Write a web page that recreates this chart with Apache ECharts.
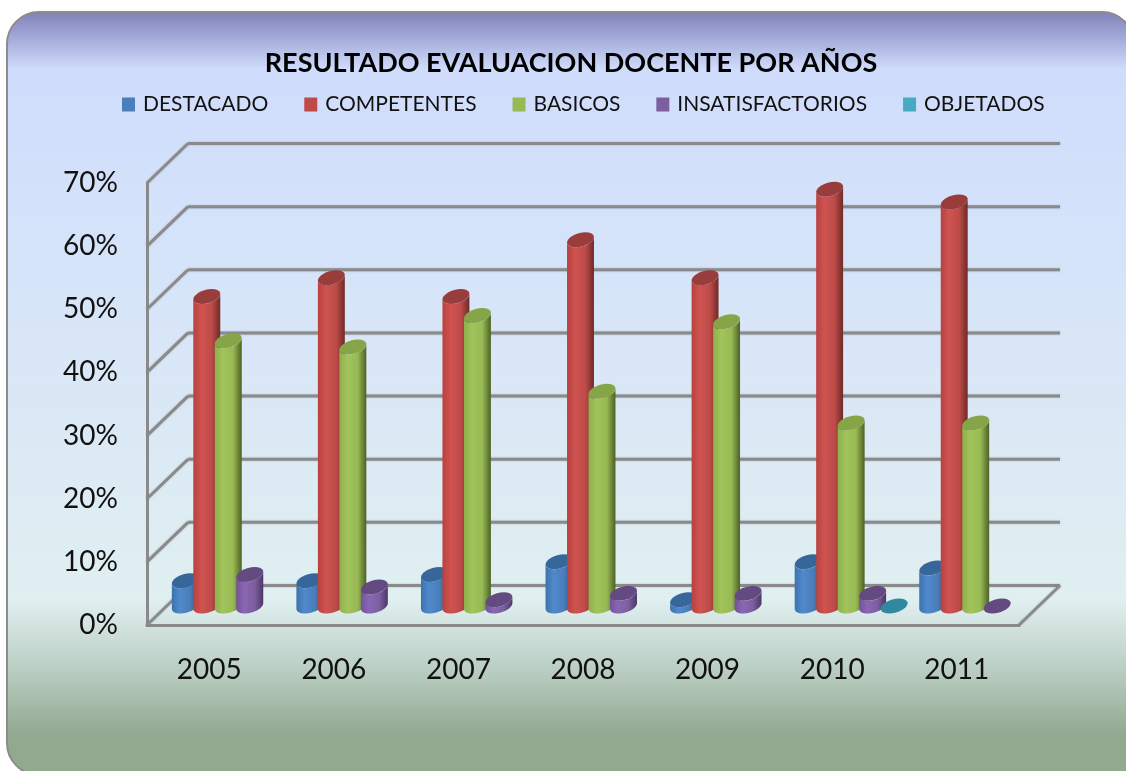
<!DOCTYPE html>
<html><head><meta charset="utf-8">
<style>html,body{margin:0;padding:0;background:#fff}#c{width:1126px;height:771px;filter:blur(0.5px)}</style>
<script src="https://cdn.jsdelivr.net/npm/echarts@6/dist/echarts.min.js"></script>
</head><body><div id="c"></div>
<script>
const years = ['2005','2006','2007','2008','2009','2010','2011'];
const yTicks = [0,10,20,30,40,50,60,70];
const destacado = [4,4,5,7,1,7,6];
const competentes = [49,52,49,58,52,66,64];
const basicos = [42,41,46,34,45,29,29];
const insatisfactorios = [5,3,1,2,2,2,0];
const objetados = [null,null,null,null,null,0,null];
const seriesNames = ['DESTACADO','COMPETENTES','BASICOS','INSATISFACTORIOS','OBJETADOS'];
const seriesValues = [destacado,competentes,basicos,insatisfactorios,objetados];
const palettes = [
 {c:'#4a7ebb',top:'#37679a',g:['#3d72ae','#5089cc','#4a7ebb','#2d5581']},
 {c:'#be4b48',top:'#983d3b',g:['#b8413e','#cf5350','#be4b48','#6f2a28']},
 {c:'#98b954',top:'#86a548',g:['#8fb04b','#a1c45b','#98b954','#4d6125']},
 {c:'#7d5fa0',top:'#634a80',g:['#74539a','#8a66b3','#7d5fa0','#4b3766']},
 {c:'#46aac5',top:'#2f8a9f',g:['#2f8a9f','#3c9ab2','#2f8a9f','#24707f']}
];
const DX=41, DY=-39.5, BAR_DX=19, BAR_DY=-19, U=12.5, VX=5, VY=-7.5, PITCH=21.5;
function arc(cx,cy,t0,t1){
  const pts=[];
  for(let i=0;i<=24;i++){const t=t0+(t1-t0)*i/24;
    pts.push([cx+U*Math.cos(t)+VX*Math.sin(t), cy+VY*Math.sin(t)]);}
  return pts;
}
const tExt=Math.atan2(VX,U);
function barRender(si){
  return function(params,api){
    const v=api.value(1), cat=api.value(0);
    if(isNaN(v)) return;
    const p=palettes[si];
    const top=api.coord([cat,v]), base=api.coord([cat,0]);
    const cx=top[0]+BAR_DX+(si-2)*PITCH, yT=top[1]+BAR_DY, yB=base[1]+BAR_DY;
    const ch=[];
    const topEl=arc(cx,yT,0,Math.PI*2);
    if(v>0){
      const lower=arc(cx,yB,Math.PI+tExt,2*Math.PI+tExt);
      const upper=arc(cx,yT,2*Math.PI+tExt,Math.PI+tExt);
      ch.push({type:'polygon',shape:{points:lower.concat(upper)},
        style:{fill:new echarts.graphic.LinearGradient(0,0,1,0,[
          {offset:0,color:p.g[0]},{offset:.3,color:p.g[1]},{offset:.68,color:p.g[2]},{offset:1,color:p.g[3]}])}});
    }
    ch.push({type:'polygon',shape:{points:topEl},style:{fill:p.top}});
    return {type:'group',children:ch};
  };
}
function gridRender(params,api){
  const t=api.value(1), y=api.coord([0,t])[1], cs=params.coordSys;
  const x0=cs.x, x1=cs.x+cs.width;
  const line={stroke:'#8a8a8a',lineWidth:3,shadowBlur:2,shadowColor:'rgba(90,90,90,.35)'};
  const ch=[
    {type:'line',shape:{x1:x0,y1:y,x2:x0+DX,y2:y+DY},style:line},
    {type:'line',shape:{x1:x0+DX,y1:y+DY,x2:x1+DX,y2:y+DY},style:line}
  ];
  if(t===0) ch.push({type:'line',shape:{x1:x1,y1:y,x2:x1+DX,y2:y+DY},style:line});
  return {type:'group',children:ch};
}
const chart=echarts.init(document.getElementById('c'),null,{renderer:'canvas'});
const font='Lato';
chart.setOption({
  animation:false,
  backgroundColor:'#ffffff',
  graphic:[{type:'rect',z:-10,shape:{x:7,y:12,width:1127,height:763,r:[32,32,0,32]},
    style:{stroke:'#8c8c8c',lineWidth:2,fill:new echarts.graphic.LinearGradient(0,0,0,1,[
      {offset:0,color:'#7f80b8'},{offset:.076,color:'#cfdcfc'},{offset:.3,color:'#d5e3fa'},
      {offset:.55,color:'#dbe9f5'},{offset:.77,color:'#e0eff0'},{offset:.85,color:'#bfd2c8'},
      {offset:.948,color:'#92a88f'},{offset:1,color:'#92a88f'}])}}],
  title:{text:'RESULTADO EVALUACION DOCENTE POR AÑOS',padding:0,left:571,top:50,textAlign:'center',
    textStyle:{fontFamily:font,fontWeight:'bold',fontSize:27,color:'#000'}},
  legend:{padding:0,left:122,top:94,itemWidth:13,itemHeight:14,itemGap:36,icon:'rect',data:seriesNames,
    textStyle:{fontFamily:font,fontSize:21,color:'#111',padding:[0,0,0,3]}},
  grid:{left:147,right:107,top:183,bottom:146},
  xAxis:{type:'category',data:years,axisTick:{show:false},
    axisLine:{lineStyle:{color:'#8a8a8a',width:3}},
    axisLabel:{fontFamily:font,fontSize:28,color:'#111',margin:31}},
  yAxis:{type:'value',min:0,max:70,interval:10,splitLine:{show:false},
    axisLine:{show:true,lineStyle:{color:'#8a8a8a',width:3}},axisTick:{show:false},
    axisLabel:{fontFamily:font,fontSize:28,color:'#111',margin:29,formatter:'{value}%'}},
  series:[{type:'custom',name:'_grid',silent:true,renderItem:gridRender,z:1,
      encode:{x:0,y:1},data:yTicks.map(t=>[0,t])}]
    .concat(seriesNames.map((n,si)=>({type:'custom',name:n,z:2+si,renderItem:barRender(si),
      itemStyle:{color:palettes[si].c},encode:{x:0,y:1},
      data:seriesValues[si].map((v,i)=>[i,v]).filter(d=>d[1]!==null)})))
});
</script></body></html>
